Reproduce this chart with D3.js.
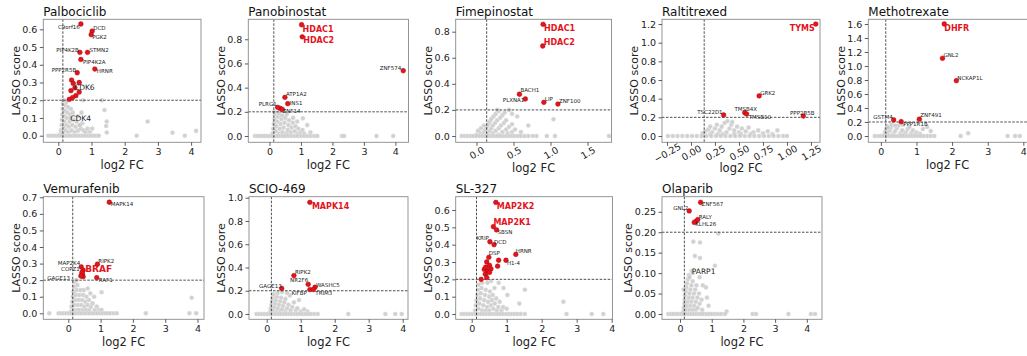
<!DOCTYPE html>
<html><head><meta charset="utf-8">
<script src="https://cdn.jsdelivr.net/npm/d3@7"></script>
<style>body{margin:0;background:#fff;} text{font-family:"DejaVu Sans",sans-serif;}</style>
</head><body><svg id="chart" width="1027" height="356"></svg>
<script>
// ---------------- DATA ----------------
// labelled hits: [gene, log2FC, LASSO score]
const palboHits = [["C9orf16",0.68,0.63],["DCD",1.02,0.59],["PGK2",0.99,0.57],["PIP4K2B",0.65,0.47],["STMN2",0.88,0.47],["PIP4K2A",0.68,0.43],["PPP2R5B",0.57,0.355],["HRNR",1.1,0.376],["CDK6",0.5,0.27]];
const palboRed = [[0.40,0.314],[0.45,0.295],[0.63,0.30],[0.38,0.254],[0.53,0.226],[0.63,0.246],[0.33,0.205],[0.43,0.215]];
const palboMarked = [["CDK4",0.36,0.1]];
const palboGray = [[0.06,0.01],[0.08,0.03],[0.1,0.06],[0.11,0.09],[0.12,0.12],[0.13,0.15],[0.14,0.18],[0.16,0.2],[0.15,0.02],[0.17,0.05],[0.18,0.08],[0.19,0.11],[0.2,0.14],[0.22,0.17],[0.24,0.19],[0.22,0.03],[0.25,0.06],[0.26,0.1],[0.28,0.13],[0.3,0.16],[0.3,0.02],[0.32,0.05],[0.34,0.08],[0.36,0.12],[0.38,0.15],[0.4,0.03],[0.42,0.06],[0.45,0.09],[0.44,0.13],[0.5,0.02],[0.52,0.05],[0.55,0.08],[0.58,0.11],[0.6,0.03],[0.63,0.06],[0.68,0.04],[0.72,0.07],[0.76,0.03],[0.82,0.02],[0.88,0.04],[0.95,0.02],[0.65,0.06],[0.75,0.2],[1.02,0.04],[1.31,0.2],[1.39,0.145],[1.44,0.055],[1.46,0.08],[1.46,0.018],[2.69,0.08],[3.44,0.017],[4.15,0.027],[0.7,0.13]];
const palboZero = [-0.3,-0.22,-0.14,-0.06,0.02,0.1,0.18,0.26,0.34,0.42,0.5,0.58,0.66,0.74,0.82,0.9,0.98,1.06,1.14,1.22,2.36,3.81];

const panoHits = [["HDAC1",1.02,0.92],["HDAC2",1.04,0.82],["ZNF574",4.25,0.54],["ATP1A2",0.49,0.32],["INS1",0.58,0.267],["PLRG1",0.26,0.237],["ZNF14",0.41,0.22]];
const panoRed = [[0.34,0.228]];
const panoGray = [[0.1,0.02],[0.12,0.06],[0.14,0.1],[0.16,0.14],[0.18,0.18],[0.2,0.04],[0.22,0.08],[0.25,0.12],[0.27,0.16],[0.3,0.19],[0.3,0.02],[0.33,0.06],[0.35,0.1],[0.38,0.14],[0.4,0.17],[0.42,0.03],[0.45,0.07],[0.48,0.11],[0.5,0.15],[0.55,0.02],[0.58,0.05],[0.6,0.09],[0.62,0.13],[0.68,0.03],[0.7,0.07],[0.74,0.11],[0.8,0.04],[0.83,0.08],[0.9,0.02],[0.92,0.06],[1.0,0.03],[1.05,0.05],[1.1,0.02],[1.2,0.09],[1.06,0.146],[0.75,0.15],[0.55,0.18],[0.88,0.12],[1.3,0.03],[0.15,0.2]];
const panoZero = [-0.46,-0.38,-0.3,-0.22,-0.14,-0.06,0.02,0.1,0.18,0.26,0.34,0.42,0.5,0.6,0.7,0.8,0.9,1.0,1.1,1.2,1.3,1.42,1.52,2.3,2.37,3.4,3.93];

const fimeHits = [["HDAC1",0.90,0.856],["HDAC2",0.895,0.69],["BACH1",0.58,0.32],["PLXNA1",0.66,0.284],["LIP",0.91,0.258],["ZNF100",1.10,0.245]];
const fimeGray = [[0.08,0.01],[0.1,0.03],[0.12,0.05],[0.14,0.07],[0.16,0.09],[0.18,0.11],[0.2,0.13],[0.23,0.15],[0.26,0.17],[0.3,0.19],[0.15,0.02],[0.18,0.04],[0.2,0.06],[0.22,0.08],[0.25,0.1],[0.28,0.12],[0.32,0.14],[0.35,0.16],[0.22,0.02],[0.26,0.04],[0.3,0.06],[0.33,0.08],[0.37,0.1],[0.4,0.12],[0.3,0.01],[0.35,0.03],[0.4,0.05],[0.44,0.07],[0.48,0.09],[0.42,0.02],[0.48,0.03],[0.52,0.05],[0.05,0.02],[0.0,0.01],[0.02,0.04],[0.06,0.06],[0.1,0.08],[0.44,0.2],[0.48,0.17],[0.55,0.15],[0.6,0.03],[0.7,0.08],[1.04,0.128],[0.38,0.18],[0.28,0.2]];
const fimeZero = [-0.2,-0.16,-0.12,-0.08,-0.04,0.0,0.04,0.08,0.12,0.16,0.2,0.24,0.28,0.32,0.36,0.4,0.44,0.48,0.52,0.56,0.6,0.65,0.7,0.76,0.81,0.95,1.06,1.79];

const ralHits = [["TYMS",1.30,1.2],["GRK2",0.71,0.43],["TSC22D1",0.34,0.225],["TMSB4X",0.56,0.25],["TMSB10",0.58,0.235],["PPP2R5B",1.17,0.214]];
const ralGray = [[0.12,0.03],[0.15,0.05],[0.18,0.07],[0.2,0.1],[0.22,0.04],[0.25,0.08],[0.27,0.12],[0.3,0.06],[0.32,0.1],[0.35,0.14],[0.37,0.04],[0.4,0.08],[0.42,0.12],[0.45,0.06],[0.48,0.1],[0.5,0.04],[0.53,0.08],[0.57,0.05],[0.6,0.09],[0.65,0.04],[0.7,0.06],[0.75,0.03],[0.8,0.05],[0.9,0.06],[0.28,0.02],[0.38,0.16],[0.43,0.15],[0.52,0.02],[0.62,0.02],[0.85,0.02],[0.2,0.02],[0.33,0.02],[0.45,0.02]];
const ralZero = [-0.24,-0.19,-0.14,-0.09,-0.04,0.01,0.06,0.11,0.16,0.21,0.26,0.31,0.36,0.41,0.46,0.51,0.56,0.61,0.66,0.71,0.76,0.81,0.86,0.91,0.96,1.0];

const methoHits = [["DHFR",1.78,1.6],["GNL2",1.73,1.11],["NCKAP1L",2.12,0.79],["GSTM4",0.36,0.23],["ZNF491",1.08,0.24],["PPP1R1B",0.57,0.205]];
const methoGray = [[0.1,0.02],[0.12,0.06],[0.15,0.1],[0.18,0.14],[0.2,0.04],[0.25,0.08],[0.28,0.12],[0.3,0.16],[0.35,0.03],[0.4,0.07],[0.45,0.11],[0.5,0.15],[0.55,0.04],[0.6,0.08],[0.62,0.16],[0.7,0.05],[0.75,0.1],[0.8,0.13],[0.85,0.04],[0.9,0.08],[1.0,0.05],[1.1,0.03],[1.18,0.1],[1.3,0.13],[1.4,0.07],[0.4,0.15],[0.2,0.12],[0.65,0.02],[0.95,0.02],[2.45,0.04]];
const methoZero = [-0.17,-0.08,0.0,0.08,0.16,0.24,0.32,0.4,0.48,0.56,0.64,0.72,0.8,0.88,0.96,1.04,1.12,1.2,1.3,1.4,1.5,2.24,3.56,3.77,3.9];

const vemuHits = [["MAPK14",1.27,0.67],["RIPK2",0.90,0.296],["MAP2K4",0.40,0.28],["BRAF",0.46,0.26],["COPZ1",0.42,0.245],["GAGE13",0.39,0.225],["RAF1",0.88,0.215]];
const vemuRed = [[0.44,0.237],[0.46,0.221]];
const vemuGray = [[0.08,0.01],[0.1,0.04],[0.12,0.07],[0.14,0.1],[0.16,0.13],[0.18,0.16],[0.2,0.19],[0.18,0.02],[0.2,0.05],[0.22,0.08],[0.24,0.11],[0.26,0.14],[0.28,0.17],[0.28,0.02],[0.3,0.05],[0.32,0.08],[0.35,0.11],[0.38,0.14],[0.36,0.02],[0.4,0.05],[0.43,0.08],[0.46,0.11],[0.48,0.14],[0.45,0.02],[0.5,0.04],[0.53,0.07],[0.56,0.1],[0.55,0.02],[0.6,0.05],[0.64,0.08],[0.68,0.12],[0.65,0.02],[0.7,0.04],[0.75,0.06],[0.8,0.1],[0.82,0.02],[0.88,0.04],[0.95,0.02],[0.25,0.2],[1.03,0.127],[1.03,0.02],[3.82,0.094],[0.6,0.15]];
const vemuZero = [-0.59,-0.3,-0.22,-0.14,-0.06,0.02,0.1,0.18,0.26,0.34,0.42,0.5,0.58,0.66,0.74,0.82,0.9,0.98,1.06,1.14,1.22,1.3,1.4,1.5,2.4,3.75,3.96];

const scioHits = [["MAPK14",1.27,0.96],["RIPK2",0.80,0.33],["NR2F6",1.22,0.255],["WASHC5",1.42,0.23],["KIFBP",1.27,0.21],["TRIM3",1.37,0.21],["GAGE13",0.44,0.22]];
const scioGray = [[0.1,0.02],[0.12,0.05],[0.14,0.08],[0.16,0.11],[0.18,0.14],[0.2,0.17],[0.2,0.03],[0.22,0.06],[0.25,0.09],[0.27,0.12],[0.3,0.15],[0.32,0.18],[0.3,0.02],[0.33,0.05],[0.36,0.08],[0.4,0.11],[0.42,0.14],[0.4,0.02],[0.45,0.04],[0.48,0.07],[0.52,0.1],[0.55,0.13],[0.55,0.02],[0.6,0.05],[0.64,0.08],[0.68,0.16],[0.7,0.03],[0.75,0.06],[0.8,0.1],[0.85,0.03],[0.9,0.05],[1.0,0.02],[1.1,0.04],[0.6,0.18],[0.45,0.19],[0.95,0.12],[1.2,0.02]];
const scioZero = [-0.3,-0.22,-0.14,-0.06,0.02,0.1,0.18,0.26,0.34,0.42,0.5,0.58,0.66,0.74,0.82,0.9,0.98,1.06,1.14,1.22,1.3,1.4,1.5,2.4,3.49,3.78,3.97];

const slHits = [["MAP2K2",0.69,0.644],["MAP2K1",0.62,0.504],["SBSN",0.71,0.485],["KRIP",0.52,0.417],["DCD",0.64,0.40],["DSP",0.49,0.327],["HRNR",1.26,0.344],["H1-4",0.98,0.31]];
const slRed = [[0.43,0.30],[0.51,0.28],[0.77,0.31],[0.74,0.276],[0.36,0.257],[0.46,0.25],[0.55,0.26],[0.39,0.23],[0.51,0.24],[0.43,0.21],[0.27,0.2],[0.4,0.27]];
const slGray = [[0.1,0.02],[0.12,0.05],[0.14,0.08],[0.16,0.11],[0.18,0.14],[0.2,0.17],[0.2,0.03],[0.22,0.06],[0.24,0.09],[0.26,0.12],[0.28,0.15],[0.3,0.18],[0.3,0.02],[0.33,0.05],[0.36,0.08],[0.38,0.11],[0.4,0.14],[0.4,0.02],[0.44,0.04],[0.47,0.07],[0.5,0.1],[0.52,0.13],[0.5,0.02],[0.55,0.05],[0.58,0.08],[0.6,0.11],[0.62,0.03],[0.66,0.06],[0.7,0.09],[0.72,0.02],[0.76,0.04],[0.8,0.07],[0.85,0.02],[0.9,0.04],[1.0,0.03],[0.77,0.18],[0.91,0.15],[1.02,0.11],[1.36,0.06],[1.52,0.14],[2.62,0.071],[0.55,0.19],[0.65,0.15],[0.45,0.18]];
const slZero = [-0.29,-0.21,-0.13,-0.05,0.03,0.11,0.19,0.27,0.35,0.43,0.51,0.59,0.67,0.75,0.83,0.91,0.99,1.07,1.15,1.23,1.31,1.4,1.52,2.71,3.43,3.76];

const olaHits = [["ZNF567",0.65,0.273],["GNL2",0.29,0.252],["RALY",0.56,0.231],["KLHL26",0.45,0.224]];
const olaRed = [[0.5,0.226]];
const olaMarked = [["PARP1",0.37,0.105]];
const olaGray = [[0.1,0.005],[0.12,0.015],[0.14,0.025],[0.15,0.035],[0.16,0.045],[0.18,0.055],[0.2,0.065],[0.22,0.075],[0.25,0.085],[0.28,0.095],[0.2,0.01],[0.22,0.02],[0.25,0.03],[0.28,0.04],[0.3,0.05],[0.33,0.06],[0.36,0.07],[0.4,0.08],[0.3,0.01],[0.33,0.02],[0.36,0.03],[0.4,0.04],[0.44,0.05],[0.48,0.06],[0.52,0.07],[0.4,0.01],[0.45,0.02],[0.5,0.03],[0.55,0.04],[0.6,0.05],[0.5,0.01],[0.56,0.015],[0.62,0.025],[0.68,0.035],[0.72,0.07],[0.82,0.065],[0.85,0.04],[0.9,0.02],[0.62,0.09],[0.3,0.09],[0.4,0.1],[1.1,0.118],[0.47,0.142],[0.63,0.137],[0.42,0.177],[0.63,0.175],[1.21,0.197],[1.47,0.006],[0.7,0.01],[0.12,0.06]];
const olaZero = [-0.37,-0.28,-0.2,-0.12,-0.04,0.04,0.12,0.2,0.28,0.36,0.44,0.52,0.6,0.68,0.76,0.84,0.92,1.0,1.1,1.2,1.3,1.42,2.29,2.4,3.42,4.13,4.26];

// tick labels
const xTicksInt = [0,1,2,3,4];
const xTicksFime = [0,0.5,1.0,1.5];
const xTicksRal = [-0.25,0,0.25,0.5,0.75,1.0,1.25];
const yTicksPalbo = [0,0.1,0.2,0.3,0.4,0.5,0.6];
const yTicksPano = [0,0.2,0.4,0.6,0.8];
const yTicksRal = [0,0.2,0.4,0.6,0.8,1.0,1.2];
const yTicksMetho = [0,0.2,0.4,0.6,0.8,1.0,1.2,1.4,1.6];
const yTicksVemu = [0,0.1,0.2,0.3,0.4,0.5,0.6,0.7];
const yTicksScio = [0,0.2,0.4,0.6,0.8,1.0];
const yTicksOla = [0,0.05,0.1,0.15,0.2,0.25];
const fcThreshold = 0.1375, scoreThreshold = 0.2;

// ---------------- LAYOUT ----------------
// label offsets [dx, dy, anchor, style]  style: b = bold red, k = large black
const labelLayout = {
 Palbociclib:{C9orf16:[-1,5,"end"],DCD:[1,-1],PGK2:[1,4.5],PIP4K2B:[-1,0,"end"],STMN2:[2,0],PIP4K2A:[2,5],PPP2R5B:[-1,-0.5,"end"],HRNR:[2,4],CDK6:[-1,2,"start","k"],CDK4:[0,3,"start","k"]},
 Panobinostat:{HDAC1:[1,7,"start","b"],HDAC2:[1,6.5,"start","b"],ZNF574:[-2,-1,"end"],ATP1A2:[1,-1.5],INS1:[2,1],PLRG1:[-1,-1.5,"end"],ZNF14:[0,4]},
 Fimepinostat:{HDAC1:[1,7,"start","b"],HDAC2:[1,-1.5,"start","b"],BACH1:[1,-2],PLXNA1:[-1,3.5,"end"],LIP:[1,-1],ZNF100:[1,-1]},
 Raltitrexed:{TYMS:[-1,7,"end","b"],GRK2:[1,-1],TSC22D1:[-1,-1,"end"],TMSB4X:[1,-1.5,"middle"],TMSB10:[2,4.5],PPP2R5B:[-1,-1.5,"middle"]},
 Methotrexate:{DHFR:[0,7,"start","b"],GNL2:[1,-1],NCKAP1L:[1,-1],GSTM4:[-1,-1,"end"],ZNF491:[1,-2],PPP1R1B:[2,4.5]},
 Vemurafenib:{MAPK14:[1.4,4],RIPK2:[1,-1.6],MAP2K4:[-1,-1.6,"end"],BRAF:[2,1.5,"start","bb"],COPZ1:[-2,-1.4,"end"],GAGE13:[-11,3.7,"end"],RAF1:[2,4.3]},
 "SCIO-469":{MAPK14:[2,6.5,"start","b"],RIPK2:[1,-1.5],NR2F6:[0,-2.5,"end"],WASHC5:[1,-0.5],KIFBP:[-3,5.5,"end"],TRIM3:[2,5.5],GAGE13:[0,-0.5,"end"]},
 "SL-327":{MAP2K2:[1,6.5,"start","b"],MAP2K1:[0,-2,"start","b"],SBSN:[1,4.5],KRIP:[-1,-1.5,"end"],DCD:[0,-1],DSP:[0,-2],HRNR:[0,-1],"H1-4":[1,4.5]},
 Olaparib:{ZNF567:[1,4],GNL2:[-1,-1,"end"],RALY:[1,-1],KLHL26:[1,3.5],PARP1:[0,3,"start","k"]}
};

const f1 = d3.format(".1f"), f2 = d3.format(".2f"), fi = d3.format("d");
const fMinus2 = v => (v<0?"\u2212":"")+f2(Math.abs(v));
const panels = [
 {title:"Palbociclib",hits:palboHits,red:palboRed,marked:palboMarked,gray:palboGray,zero:palboZero,box:[43.3,19.3,201,142.3],xd:[-0.452,4.298],yd:[-0.0372,0.6565],xt:xTicksInt,yt:yTicksPalbo,xf:fi,yf:f1},
 {title:"Panobinostat",hits:panoHits,red:panoRed,gray:panoGray,zero:panoZero,box:[248.3,19.3,408.5,142.3],xd:[-0.673,4.417],yd:[-0.0521,0.9652],xt:xTicksInt,yt:yTicksPano,xf:fi,yf:f1},
 {title:"Fimepinostat",hits:fimeHits,gray:fimeGray,zero:fimeZero,box:[455.7,19.3,611.5,142.3],xd:[-0.281,1.824],yd:[-0.0483,0.8949],xt:xTicksFime,yt:yTicksPano,xf:f1,yf:f1,rot:true},
 {title:"Raltitrexed",hits:ralHits,gray:ralGray,zero:ralZero,box:[662,19.3,820,142.3],xd:[-0.302,1.344],yd:[-0.0675,1.2508],xt:xTicksRal,yt:yTicksRal,xf:fMinus2,yf:f1,rot:true},
 {title:"Methotrexate",hits:methoHits,gray:methoGray,zero:methoZero,box:[868.3,19.3,1034,142.3],xd:[-0.353,4.3],yd:[-0.09,1.667],xt:xTicksInt,yt:yTicksMetho,xf:fi,yf:f1},
 {title:"Vemurafenib",hits:vemuHits,red:vemuRed,gray:vemuGray,zero:vemuZero,box:[43.3,196.7,204,319.3],xd:[-0.774,4.201],yd:[-0.0362,0.7036],xt:xTicksInt,yt:yTicksVemu,xf:fi,yf:f1},
 {title:"SCIO-469",hits:scioHits,gray:scioGray,zero:scioZero,box:[249,196.7,408,319.3],xd:[-0.521,4.156],yd:[-0.0456,1.0086],xt:xTicksInt,yt:yTicksScio,xf:fi,yf:f1},
 {title:"SL-327",hits:slHits,red:slRed,gray:slGray,zero:slZero,box:[455.7,196.7,612.5,319.3],xd:[-0.457,4.023],yd:[-0.0306,0.6768],xt:xTicksInt,yt:yTicksPalbo,xf:fi,yf:f1},
 {title:"Olaparib",hits:olaHits,red:olaRed,marked:olaMarked,gray:olaGray,zero:olaZero,box:[662,196.7,822,319.3],xd:[-0.568,4.479],yd:[-0.013,0.2869],xt:xTicksInt,yt:yTicksOla,xf:fi,yf:f2}
];

const svg = d3.select("#chart");
const RED = "#e3141c", GRAYF = "#c9c9c9";

panels.forEach((p,i) => {
  const [x0,y0,x1,y1] = p.box;
  const x = d3.scaleLinear().domain(p.xd).range([x0,x1]);
  const y = d3.scaleLinear().domain(p.yd).range([y1,y0]);
  const g = svg.append("g");
  const cid = "clip"+i;
  g.append("clipPath").attr("id",cid).append("rect").attr("x",x0).attr("y",y0).attr("width",x1-x0).attr("height",y1-y0);
  const plot = g.append("g").attr("clip-path",`url(#${cid})`);

  const grayPts = p.gray.concat(p.zero.map(v=>[v,0])).concat((p.marked||[]).map(d=>[d[1],d[2]]));
  plot.selectAll(".g").data(grayPts).join("circle")
    .attr("cx",d=>x(d[0])).attr("cy",d=>y(d[1])).attr("r",2.3)
    .attr("fill",GRAYF).attr("fill-opacity",0.85).attr("stroke","#f2f2f2").attr("stroke-width",0.4);

  // threshold lines
  plot.append("line").attr("x1",x(fcThreshold)).attr("x2",x(fcThreshold)).attr("y1",y0).attr("y2",y1)
    .attr("stroke","#222").attr("stroke-width",0.8).attr("stroke-dasharray","2.5,1.5");
  plot.append("line").attr("x1",x0).attr("x2",x1).attr("y1",y(scoreThreshold)).attr("y2",y(scoreThreshold))
    .attr("stroke","#222").attr("stroke-width",0.8).attr("stroke-dasharray","2.5,1.5");

  const redPts = (p.red||[]).concat(p.hits.map(d=>[d[1],d[2]]));
  plot.selectAll(".r").data(redPts).join("circle")
    .attr("cx",d=>x(d[0])).attr("cy",d=>y(d[1])).attr("r",2.4)
    .attr("fill",RED).attr("stroke","#a00000").attr("stroke-width",0.4);

  // labels
  const lay = labelLayout[p.title];
  const labelled = p.hits.concat(p.marked||[]);
  labelled.forEach(d => {
    const L = lay[d[0]] || [1,-1];
    const st = L[3]||"s";
    const t = g.append("text").attr("x",x(d[1])+L[0]).attr("y",y(d[2])+L[1])
      .attr("text-anchor",L[2]||"start").text(d[0]);
    if (st==="b") t.attr("font-size",8).attr("font-weight","bold").attr("fill",RED);
    else if (st==="bb") t.attr("font-size",9).attr("font-weight","bold").attr("fill",RED);
    else if (st==="k") t.attr("font-size",7.5).attr("fill","#222");
    else t.attr("font-size",5.5).attr("fill","#222");
  });

  // frame
  g.append("rect").attr("x",x0).attr("y",y0).attr("width",x1-x0).attr("height",y1-y0)
    .attr("fill","none").attr("stroke","#8a8a8a").attr("stroke-width",0.9);

  // axes
  const xa = g.append("g").attr("transform",`translate(0,${y1})`)
    .call(d3.axisBottom(x).tickValues(p.xt).tickFormat(p.xf).tickSize(3.5).tickPadding(2.5).tickSizeOuter(0));
  const ya = g.append("g").attr("transform",`translate(${x0},0)`)
    .call(d3.axisLeft(y).tickValues(p.yt).tickFormat(p.yf).tickSize(3.5).tickPadding(2.5).tickSizeOuter(0));
  [xa,ya].forEach(a => {
    a.select(".domain").remove();
    a.selectAll("line").attr("stroke","#333").attr("stroke-width",0.8);
    a.selectAll("text").attr("font-size",9.5).attr("fill","#222").attr("font-family","DejaVu Sans");
  });
  if (p.rot) {
    xa.selectAll("text").attr("text-anchor","middle").attr("y",10.5).attr("dy","0.35em")
      .attr("transform","rotate(-30,0,10.5)");
  }

  // title
  g.append("text").attr("x",x0).attr("y",y0-3.3).attr("font-size",12).attr("fill","#111").text(p.title);
  // x label
  g.append("text").attr("x",(x0+Math.min(x1,1027))/2).attr("y",y1+(p.rot?29.5:26.5))
    .attr("text-anchor","middle").attr("font-size",11.5).attr("fill","#222").text("log2 FC");
  // y label
  const bb = ya.node().getBBox();
  const lx = x0 + bb.x - 2.5, ly = (y0+y1)/2;
  g.append("text").attr("transform",`translate(${lx},${ly}) rotate(-90)`)
    .attr("text-anchor","middle").attr("font-size",11).attr("fill","#222").text("LASSO score");
});
</script></body></html>
